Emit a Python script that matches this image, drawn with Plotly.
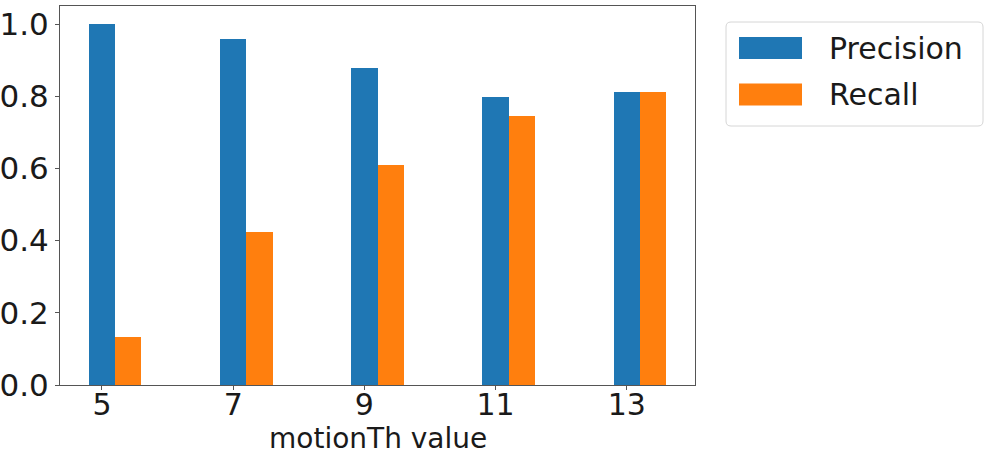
import plotly.graph_objects as go

thresholds = [5, 7, 9, 11, 13]
precision = [1.0, 0.958, 0.877, 0.799, 0.8125]
recall = [0.132, 0.423, 0.609, 0.745, 0.8125]
y_ticks = [0.0, 0.2, 0.4, 0.6, 0.8, 1.0]
series_names = ["Precision", "Recall"]
colors = ["#1f77b4", "#ff7f0e"]
x_title = "motionTh value"

FONT = "DejaVu Sans"
L, R, T, B = 60, 297, 6, 71
W, H = 992, 456
pw = W - L - R
ph = H - T - B

fig = go.Figure()
fig.add_trace(go.Bar(x=thresholds, y=precision, width=0.4, offset=-0.2,
                     marker=dict(color=colors[0], line=dict(width=0)),
                     name=series_names[0], showlegend=False))
fig.add_trace(go.Bar(x=thresholds, y=recall, width=0.4, offset=0.2,
                     marker=dict(color=colors[1], line=dict(width=0)),
                     name=series_names[1], showlegend=False))

def px_x(px):
    return (px - L) / pw

def px_y(py):
    return (H - B - py) / ph

# custom legend (matplotlib style)
x0, x1 = px_x(726), px_x(983)
y0, y1 = px_y(126), px_y(22)
rx, ry = 5 / pw, 5 / ph
path = (f"M {x0+rx},{y0} L {x1-rx},{y0} Q {x1},{y0} {x1},{y0+ry} "
        f"L {x1},{y1-ry} Q {x1},{y1} {x1-rx},{y1} L {x0+rx},{y1} "
        f"Q {x0},{y1} {x0},{y1-ry} L {x0},{y0+ry} Q {x0},{y0} {x0+rx},{y0} Z")
shapes = [dict(type="path", xref="paper", yref="paper", path=path,
               line=dict(color="#d6d6d6", width=1), fillcolor="white")]
annotations = []
for i, (name, c) in enumerate(zip(series_names, colors)):
    top = 37 + i * 46.5
    shapes.append(dict(type="rect", xref="paper", yref="paper",
                       x0=px_x(739), x1=px_x(802), y0=px_y(top + 22), y1=px_y(top),
                       fillcolor=c, line=dict(width=0)))
    annotations.append(dict(xref="paper", yref="paper", x=px_x(827), y=px_y(top + 11),
                            text=name, showarrow=False, xanchor="left", yanchor="middle",
                            font=dict(family=FONT, size=30, color="#1a1a1a")))

annotations.append(dict(xref="paper", yref="paper", x=0.5, y=px_y(438),
                        text=x_title, showarrow=False, xanchor="center", yanchor="middle",
                        font=dict(family=FONT, size=28, color="#1a1a1a")))

fig.update_layout(
    width=W, height=H,
    margin=dict(l=L, r=R, t=T, b=B, autoexpand=False),
    paper_bgcolor="white", plot_bgcolor="white",
    barmode="overlay",
    bargap=0,
    font=dict(family=FONT, size=30, color="#1a1a1a"),
    shapes=shapes,
    annotations=annotations,
    showlegend=False,
)
fig.update_xaxes(
    range=[4.36, 14.04], tickvals=thresholds, ticktext=[str(t) for t in thresholds],
    showline=True, mirror=True, linecolor="#555555", linewidth=1,
    ticks="outside", ticklen=4, tickcolor="#555555", showgrid=False, zeroline=False,
    automargin=False, ticklabelstandoff=-11,
    tickfont=dict(family=FONT, size=30),
)
fig.update_yaxes(
    range=[0, 1.05], tickvals=y_ticks, ticktext=[f"{v:.1f}" for v in y_ticks],
    showline=True, mirror=True, linecolor="#555555", linewidth=1,
    ticks="outside", ticklen=4, tickcolor="#555555", showgrid=False, zeroline=False,
    automargin=False,
    tickfont=dict(family=FONT, size=31),
)

fig.write_html("out.html", config={"displayModeBar": False},
               post_script="document.body.style.margin='0';")
